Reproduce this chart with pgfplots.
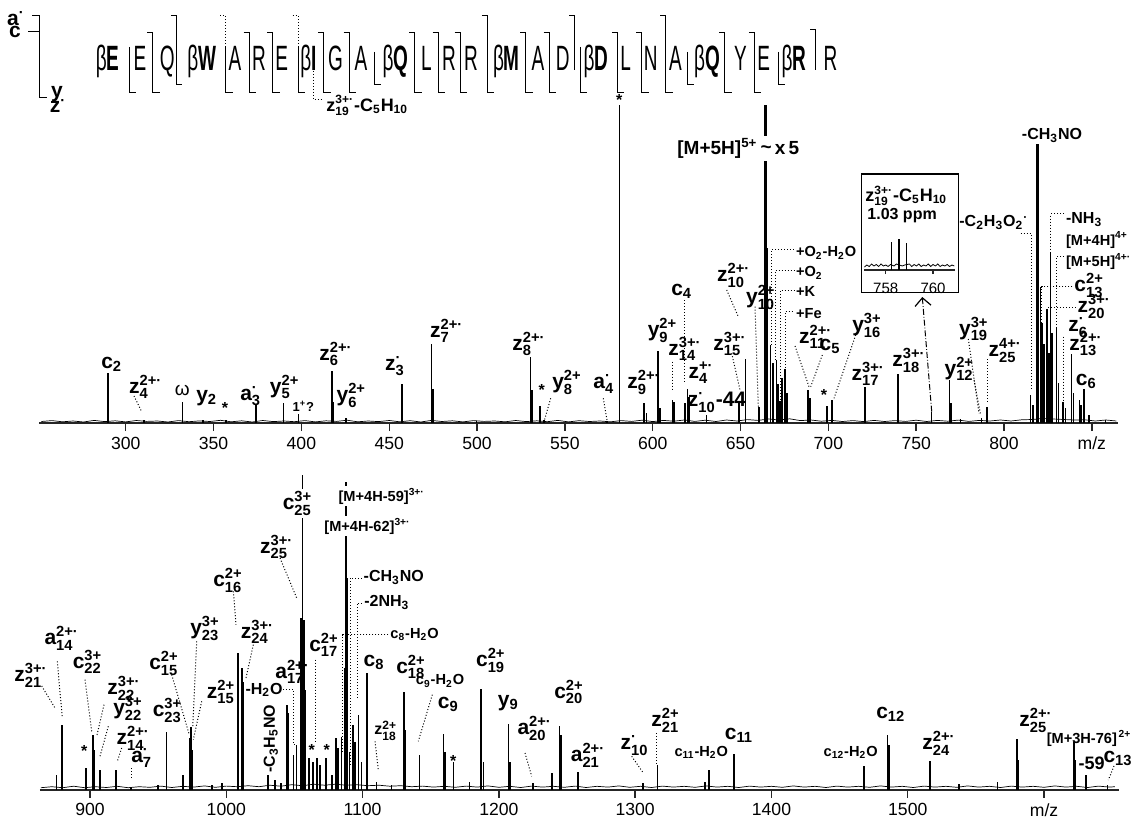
\documentclass[border=0pt]{standalone}
\usepackage{pgfplots}
\pgfplotsset{compat=1.18}
\usepackage{amsmath}
\usepackage{graphicx}
\usepackage{fontspec}
\setmainfont{Liberation Sans}
\usetikzlibrary{arrows.meta}

\newcommand{\I}[3]{#1${}^{\text{#3}}_{\text{#2}}$}
\newcommand{\Is}[2]{#1${}_{\text{#2}}$}
\newcommand{\Iu}[2]{#1${}^{\text{#2}}$}
\newcommand{\sub}[1]{${}_{\text{#1}}$}
\newcommand{\sq}[1]{\scalebox{1}[1.85]{#1}}

\tikzset{
  L/.style={font=\fontsize{10.5}{12}\selectfont\bfseries, anchor=base, inner sep=0pt},
  L9/.style={font=\fontsize{9}{11}\selectfont\bfseries, anchor=base, inner sep=0pt},
  S8/.style={font=\fontsize{8}{9.5}\selectfont\bfseries, anchor=base, inner sep=0pt},
  S75/.style={font=\fontsize{7.3}{9}\selectfont\bfseries, anchor=base, inner sep=0pt},
  ST/.style={font=\fontsize{8}{9}\selectfont\bfseries, anchor=center, inner sep=0pt},
  SEQ/.style={font=\fontsize{9.5}{11}\selectfont, anchor=base, inner sep=0pt},
  ld/.style={densely dotted, line width=0.5pt},
  br/.style={line width=0.5pt},
}

\pgfplotsset{
  spec/.style={
    scale only axis, anchor=south west, clip=false,
    axis x line*=bottom, axis y line=none,
    x axis line style={-, line width=0.9pt, black!85},
    tick align=outside, xtick pos=left, major tick length=4pt,
    xtick style={line width=0.7pt, black!85},
    xticklabel style={font=\fontsize{8.8}{10}\selectfont, anchor=north, inner sep=0pt, yshift=-2.8pt},
    ytick=\empty,
  },
}

\begin{document}
\begin{tikzpicture}
\path[use as bounding box] (0,0) rectangle (569.5pt,-409pt);

% ---------------- top spectrum ----------------
\begin{axis}[spec, at={(19.65pt,-211.5pt)}, width=539.35pt, height=211.5pt,
  xmin=250.8, xmax=864.9, ymin=0, ymax=423,
  xtick={300,350,400,450,500,550,600,650,700,750,800,850},
  xticklabels={300,350,400,450,500,550,600,650,700,750,800,m/z}]
\addplot[black, line width=0.35pt] coordinates {
(252,1.5)(258,2.4)(264,1.2)(270,2.0)(276,1.0)(282,2.6)(288,1.4)(294,2.2)(300,1.1)(306,2.5)
(312,1.6)(318,2.0)(324,1.0)(330,2.4)(336,1.3)(342,2.1)(348,1.5)(354,2.7)(360,1.2)(366,2.2)
(372,1.0)(378,2.5)(384,1.4)(390,2.0)(396,1.3)(402,2.4)(408,1.1)(414,2.2)(420,1.6)(426,2.8)
(432,1.2)(438,2.0)(444,1.4)(450,2.5)(456,1.2)(462,2.3)(468,1.0)(474,2.6)(480,1.5)(486,2.2)
(492,1.1)(498,2.4)(504,1.6)(510,2.0)(516,1.2)(522,2.5)(528,1.4)(534,2.2)(540,1.3)(546,2.6)
(552,1.1)(558,2.3)(564,1.5)(570,2.0)(576,1.2)(582,2.4)(588,1.6)(594,2.8)(600,1.4)(606,2.6)
(612,1.8)(618,3.0)(624,1.6)(630,2.8)(636,1.5)(642,3.0)(648,2.0)(654,3.4)(660,2.6)(666,4.0)
(672,3.0)(678,4.2)(684,2.4)(690,3.0)(696,1.8)(702,2.6)(708,1.5)(714,2.4)(720,1.4)(726,2.6)
(732,1.5)(738,2.4)(744,1.6)(750,2.8)(756,1.5)(762,2.6)(768,1.8)(774,2.9)(780,1.6)(786,2.6)
(792,2.0)(798,3.0)(804,2.0)(810,3.2)(816,3.5)(822,4.5)(828,4.0)(834,3.5)(840,3.0)(846,3.2)
(852,2.0)(858,3.0)(864,2.0)};
\addplot[ycomb, black, line width=0.85pt] coordinates {
(290.1,50)(310.6,3)(332.3,21)(344,3)(357,3)(374.2,18)(389.8,20)(398.3,9)(417.5,52)(418.2,21)
(425.2,5)(457.2,39)(474.1,79)(474.8,34)(499.7,2)(530.5,66)(531.2,33)(535.8,17)(538,3)(574,2)
(595.2,20)(596.5,10)(603.0,72)(604.2,15)(611.3,23)(612.3,21)(618.3,20)(619.8,34)(620.8,26)
(630.6,8)(649.2,20)(652.8,64)(660.4,16)(665.3,175)(667.1,78)(668.5,60)(670.5,63)(671.4,39)
(672.4,22)(673.5,45)(675.2,54)(676.5,30)(688.5,33)(689.5,25)(699.3,17)(702.1,23)(720.7,36)
(739.7,49)(758.7,11)(768.9,43)(769.8,20)(775.2,4)(787.1,5)(790.4,16)
(815.0,28)(816.5,18)(819.5,150)(820.7,136)(821.7,100)(822.6,79)(824.5,114)(825.5,70)
(826.4,171)(827.5,90)(829.8,96)(831,40)(833.6,21)(835,15)(838.4,69)(839.5,30)(842.9,23)
(844,18)(845.4,34)(848.2,8)(857.7,3)};
\addplot[ycomb, black, line width=0.6pt] coordinates {(580.9,318)};
\addplot[ycomb, black, line width=1.5pt] coordinates {(664.3,318)(818.8,279)};
\end{axis}

% ---------------- inset ----------------
\begin{axis}[spec, at={(432pt,-135pt)}, width=45.5pt, height=20pt,
  xmin=757.08, xmax=760.93, ymin=0, ymax=40,
  x axis line style={-, line width=0.6pt},
  major tick length=2pt,
  xtick={758,760}, xticklabels={758,760},
  xticklabel style={font=\fontsize{7.5}{9}\selectfont, yshift=-1.5pt}]
\addplot[black, line width=0.4pt] coordinates {
(757.1,3)(757.2,5)(757.3,3.5)(757.4,6)(757.5,4)(757.6,5.5)(757.7,3.5)(757.8,6)(757.9,4)(758.0,5)
(758.1,3.5)(758.2,5.5)(758.35,4)(758.45,6)(758.7,4)(758.8,5)(759.0,6)(759.1,3.5)(759.2,5.5)
(759.3,4)(759.4,6)(759.5,3.5)(759.6,5)(759.7,4)(759.8,6)(759.9,3.5)(760.0,5.5)(760.1,4)
(760.2,6)(760.3,3.5)(760.4,5)(760.5,4)(760.6,5.5)(760.7,3.5)(760.8,5)(760.9,4)};
\addplot[ycomb, black, line width=0.6pt] coordinates {(758.25,28)(758.56,31)(758.87,27)};
\end{axis}

% ---------------- bottom spectrum ----------------
\begin{axis}[spec, at={(20pt,-394.85pt)}, width=539.5pt, height=175pt,
  xmin=863.3, xmax=1655, ymin=0, ymax=350,
  xtick={900,1000,1100,1200,1300,1400,1500,1600},
  xticklabels={900,1000,1100,1200,1300,1400,1500,m/z}]
\addplot[black, line width=0.35pt] coordinates {
(864,2)(872,3)(880,2)(888,3.5)(896,2)(904,3)(912,2.2)(920,3.4)(928,2)(936,3)(944,2.4)(952,3.6)
(960,2.2)(968,3.4)(976,2.6)(984,3.8)(992,2.4)(1000,3.6)(1008,3)(1016,4)(1024,3)(1032,4.5)
(1040,3.5)(1048,5)(1056,4)(1064,5.5)(1072,4.5)(1080,5.5)(1088,4.5)(1096,5)(1104,4)(1112,4.5)
(1120,3.5)(1128,4)(1136,3)(1144,3.6)(1152,2.6)(1160,3.4)(1168,2.4)(1176,3.6)(1184,2.6)(1192,3.8)
(1200,2.4)(1208,3.4)(1216,2.2)(1224,3.6)(1232,2.6)(1240,3.4)(1248,2.4)(1256,3.6)(1264,2.2)
(1272,3.4)(1280,2.6)(1288,3.8)(1296,2.4)(1304,3.4)(1312,2.2)(1320,3.6)(1328,2.6)(1336,3.4)
(1344,2.4)(1352,3.8)(1360,2.6)(1368,3.4)(1376,2.2)(1384,3.6)(1392,2.6)(1400,3.4)(1408,2.4)
(1416,3.8)(1424,2.6)(1432,3.4)(1440,2.2)(1448,3.6)(1456,2.6)(1464,3.4)(1472,2.4)(1480,3.8)
(1488,2.6)(1496,3.4)(1504,2.2)(1512,3.6)(1520,2.6)(1528,3.4)(1536,2.4)(1544,3.8)(1552,2.6)
(1560,3.4)(1568,2.2)(1576,3.6)(1584,2.6)(1592,3.4)(1600,2.4)(1608,3.8)(1616,2.6)(1624,3.4)
(1632,2.2)(1640,3.6)(1648,2.6)(1652,3)};
\addplot[ycomb, black, line width=0.85pt] coordinates {
(875.5,15)(879.2,65)(879.9,60)(897.1,22)(902.0,55)(902.7,40)(907.3,20)(919.1,20)(930.1,3)
(950.1,5)(956.2,58)(968.0,15)(972.9,52)(974.3,63)(975.2,40)(989.3,5)(996.6,7)(1008.8,137)
(1011.3,122)(1012.5,108)(1030.8,15)(1035.7,10)(1039.9,7)(1044.3,85)(1045.5,77)(1049.2,35)
(1051.6,45)(1054.6,172)(1057.0,170)(1058.2,100)(1060.9,32)(1063.4,28)(1066.3,32)(1068.7,25)
(1073.1,32)(1077.3,15)(1080.5,52)(1082.2,42)(1084.6,53)(1087.1,122)(1088.3,212)(1090.3,38)
(1092.7,65)(1094.4,48)(1096.9,75)(1099.3,28)(1103.0,117)(1110.3,8)(1121.3,5)(1130.4,98)
(1131.2,60)(1141.7,35)(1159.3,56)(1160.5,38)(1166.6,28)(1178.4,8)(1186.9,101)(1188.6,28)
(1207.0,66)(1208.2,28)(1224.8,7)(1238.8,17)(1244.4,64)(1245.4,55)(1257.8,18)(1305.5,7)
(1316.3,25)(1351.3,8)(1354.4,20)(1372.5,36)(1467.9,24)(1485.1,55)(1486.3,45)(1516.1,29)
(1537.6,6)(1565.8,8)(1580.4,51)(1581.2,30)(1622.0,48)(1622.8,30)(1630.6,15)(1646.5,5)};
\addplot[ycomb, black, line width=0.6pt] coordinates {(1056.0,315)(1087.8,308)};
\end{axis}

% ---------------- annotations (1 unit = 1 px of the 1139x818 frame) ----------------
\begin{scope}[x=0.5pt, y=-0.5pt]
% header legend
\node[L] at (16,25.5) {\Iu{a}{·}};
\node[L] at (15,38) {c};
\node[L] at (57,97.5) {y};
\node[L] at (58,113) {\Iu{z}{·}};
\draw[br] (32,16) -- (39,16) -- (39,97.5) -- (47,97.5);
\draw[br] (28,32) -- (39,32);
% sequence
\foreach \x/\t in {107.6/β\textbf{E}, 140/E, 167.3/Q, 201.8/β\textbf{W}, 235/A, 259/R, 281.8/E,
  308.5/β\textbf{I}, 335.5/G, 361/A, 395.5/β\textbf{Q}, 426.4/L, 449/R, 471/R, 506.4/β\textbf{M},
  538/A, 562.8/D, 596/β\textbf{D}, 625.7/L, 650.7/N, 675.5/A, 707/β\textbf{Q}, 740.5/Y, 763.7/E,
  794/β\textbf{R}, 830.4/R}
  \node[SEQ] at (\x,71) {\sq{\t}};
\foreach \x in {152.7,249,272.7,323.6,349,414.5,438,460,525.5,549,617.4,641.5,724.8,754.4}
  \draw[br] (\x-5.5,33) -- (\x,33) -- (\x,70);
\draw[br] (810.1,30) -- (815.6,30) -- (815.6,70);
\foreach \x in {176.4,487.3,574.8,665.5}
  \draw[br] (\x-5.5,16) -- (\x,16) -- (\x,70);
\foreach \x in {225.5,298.2}
  \draw[ld] (\x-5.5,16) -- (\x,16) -- (\x,62);
\foreach \x in {129,152.7,225.5,249,272.7,298.2,323.6,349,414.5,438,460,487.3,525.5,549,580.4,617.4,641.5,665.5,724.8,754.4}
  \draw[br] (\x,47) -- (\x,93) -- (\x+7,93);
\foreach \x in {176.4,374.5,687.8,778.5}
  \draw[br] (\x,52) -- (\x,85) -- (\x+6,85);
\draw[ld] (313.5,47) -- (313.5,100) -- (322,100);
\node[L9, anchor=base west] at (326,111.5) {\I{z}{19}{3+·}-C\sub{5}H\sub{10}};

% top panel labels
\node[L] at (111.7,368.3) {\Is{c}{2}};
\node[L] at (145.7,393.3) {\I{z}{4}{2+·}};
\draw[ld] (134,396) -- (141.7,411.7);
\node[font=\fontsize{9.5}{11}\selectfont, anchor=base, inner sep=0pt] at (182.3,395) {ω};
\node[L] at (206.7,401.7) {\Is{y}{2}};
\node[ST] at (225,408) {*};
\node[L] at (250.7,400) {\I{a}{3}{·}};
\node[L] at (284.7,393.3) {\I{y}{5}{2+}};
\node[font=\fontsize{6.5}{8}\selectfont\bfseries, anchor=base, inner sep=0pt] at (303.3,411.7) {1\Iu{}{+}?};
\node[L] at (336,360) {\I{z}{6}{2+·}};
\node[L] at (351.3,401.7) {\I{y}{6}{2+}};
\node[L] at (395,370) {\I{z}{3}{·}};
\node[L] at (446.7,337.3) {\I{z}{7}{2+·}};
\node[L] at (529,350) {\I{z}{8}{2+·}};
\node[ST] at (541.7,390) {*};
\node[L] at (567,388.3) {\I{y}{8}{2+}};
\draw[ld] (550.7,398.3) -- (544,421.7);
\node[L] at (603.8,388.3) {\I{a}{4}{·}};
\draw[ld] (603.3,398.3) -- (607.3,421.7);
\node[L] at (644,388.3) {\I{z}{9}{2+·}};
\node[L] at (662.5,336.7) {\I{y}{9}{2+}};
\node[L] at (681.7,295) {\Is{c}{4}};
\draw[ld] (684,300) -- (684,384);
\node[L] at (685,355) {\I{z}{14}{3+·}};
\draw[ld] (672.7,361.7) -- (672.7,390);
\node[L] at (730,350) {\I{z}{15}{3+·}};
\draw[ld] (731.7,353.3) -- (740,390);
\node[L] at (701,378.3) {\I{z}{4}{+·}};
\node[L] at (733.8,281.7) {\I{z}{10}{2+·}};
\draw[ld] (726.7,290) -- (738.3,316.7);
\node[L] at (760.8,303.3) {\I{y}{10}{2+}};
\draw[ld] (755,306.7) -- (758.3,406.7);
\node[L] at (717,406.7) {\I{z}{10}{·}-44};
\node[ST] at (619.3,100) {*};
\node[font=\fontsize{9.5}{11}\selectfont\bfseries, anchor=base west, inner sep=1pt, fill=white] at (675,155)
  {[M+5H]\Iu{}{5+}\,\raisebox{0.15ex}{\textasciitilde}\,x\,5};

\node[S75, anchor=base west] at (795.7,256.7) {+O\sub{2}-H\sub{2}O};
\draw[ld] (771.7,345) -- (771.7,249.3) -- (794,249.3);
\node[S75, anchor=base west] at (795.7,276.7) {+O\sub{2}};
\draw[ld] (775.7,360) -- (775.7,270) -- (794,270);
\node[S75, anchor=base west] at (795.7,296.7) {+K};
\draw[ld] (780,400) -- (780,290.7) -- (794,290.7);
\node[S75, anchor=base west] at (795.7,318.3) {+Fe};
\draw[ld] (785,368) -- (785,311.7) -- (794,311.7);
\node[L] at (815.7,343.3) {\I{z}{11}{2+·}};
\draw[ld] (795,346) -- (809,386.7);
\node[L] at (830,350) {\Is{c}{5}};
\draw[ld] (822.3,355) -- (810.7,386.7);
\node[L] at (867,331.7) {\I{y}{16}{3+}};
\draw[ld] (855.7,335) -- (834,398.3);
\node[ST] at (824,395) {*};
\node[L] at (868.2,380) {\I{z}{17}{3+·}};
\node[L] at (909,366.7) {\I{z}{18}{3+·}};
\node[L] at (959.3,375) {\I{y}{12}{2+}};
\draw[ld] (974,380) -- (980.7,415);
\node[L] at (973.8,335) {\I{y}{19}{3+}};
\draw[ld] (968.3,339) -- (979,413.3);
\node[L] at (1005.3,356.7) {\I{z}{25}{4+·}};
\draw[ld] (987.3,359) -- (987.3,401.7);
\node[S8] at (1052,140) {-CH\sub{3}NO};
\node[S8, anchor=base west] at (959,226.7) {-C\sub{2}H\sub{3}O\sub{2}\Iu{}{·}};
\draw[ld] (1020.7,233.3) -- (1031,233.3) -- (1031,390);
\node[S8, anchor=base west] at (1065.7,223.3) {-NH\sub{3}};
\draw[ld] (1064,214) -- (1050.7,214) -- (1050.7,250);
\node[S75, anchor=base west] at (1065.7,245) {[M+4H]\Iu{}{4+}};
\node[S75, anchor=base west] at (1065.7,266.7) {[M+5H]\Iu{}{4+·}};
\draw[ld] (1064,256.7) -- (1056.7,256.7) -- (1056.7,326.7);
\node[L, anchor=base west] at (1074,291.7) {\I{c}{13}{2+}};
\draw[ld] (1072.3,286.7) -- (1041.7,286.7) -- (1041.7,356.7);
\node[L, anchor=base west] at (1077.3,312.5) {\I{z}{20}{3+·}};
\draw[ld] (1075.7,307.3) -- (1047.3,307.3) -- (1047.3,350);
\node[L] at (1078.3,331.7) {\I{z}{6}{·}};
\draw[ld] (1063.3,336.7) -- (1063.3,401.7);
\node[L, anchor=base west] at (1069,350) {\I{z}{13}{2+·}};
\node[L] at (1086.3,385) {\Is{c}{6}};

% inset
\draw[line width=0.7pt] (861.7,174) rectangle (958.3,292.7);
\node[L9, anchor=base west] at (865,201.7) {\I{z}{19}{3+·}-C\sub{5}H\sub{10}};
\node[S8, anchor=base west] at (867,219.5) {1.03 ppm};
\draw[densely dash dot, line width=0.5pt, -{Straight Barb[length=4pt,width=8pt,line width=0.6pt]}] (931.7,411.7) -- (922.3,297);

% bottom panel labels
\node[L] at (31,681.3) {\I{z}{21}{3+·}};
\draw[ld] (41.7,686) -- (55,708);
\node[L] at (61.7,644.7) {\I{a}{14}{2+·}};
\draw[ld] (57.3,661.3) -- (62.3,718);
\node[L] at (87.5,668) {\I{c}{22}{3+}};
\draw[ld] (85,679.7) -- (91.7,731.3);
\node[L] at (124,694.7) {\I{z}{22}{3+·}};
\draw[ld] (104,704.7) -- (96.7,736.3);
\node[L] at (128,714.7) {\I{y}{22}{3+}};
\draw[ld] (108.3,726.3) -- (100,756.3);
\node[L] at (167.5,716.3) {\I{c}{23}{3+}};
\node[L] at (133.3,744.7) {\I{z}{14}{2+·}};
\draw[ld] (121.7,748) -- (117.3,761.3);
\node[ST] at (84.3,751.3) {*};
\node[L] at (141.7,762) {\I{a}{7}{·}};
\draw[ld] (131,768) -- (131,779.7);
\node[L] at (164,669.7) {\I{c}{15}{2+}};
\draw[ld] (171.7,674.7) -- (189.3,734.7);
\node[L] at (205,634.7) {\I{y}{23}{3+}};
\draw[ld] (196.7,641.3) -- (192.7,728);
\node[L] at (221,698) {\I{z}{15}{2+}};
\draw[ld] (201.7,701.3) -- (193.3,739.7);
\node[L] at (228,586.3) {\I{c}{16}{2+}};
\draw[ld] (233.3,591.3) -- (236,624.7);
\node[L] at (257.5,638) {\I{z}{24}{3+·}};
\draw[ld] (253.3,644.7) -- (246,678);
\node[S8, rotate=90, anchor=center] at (270.8,738.7) {-C\sub{3}H\sub{5}NO};
\node[S8] at (264,694) {-H\sub{2}O};
\draw[ld] (280,689.7) -- (293.3,689.7) -- (293.3,744.7) -- (297,744.7);
\node[L] at (292.5,678) {\I{a}{17}{2+·}};
\node[L] at (324,651.3) {\I{c}{17}{2+}};
\draw[ld] (315,659.7) -- (315,741.3);
\node[L, fill=white, inner sep=1pt] at (297.5,509.7) {\I{c}{25}{3+}};
\node[L] at (276.7,553) {\I{z}{25}{3+·}};
\draw[ld] (280,558) -- (296.7,598);
\node[ST] at (311.7,749.7) {*};
\node[ST] at (326.7,749.7) {*};
\node[S75, fill=white, inner sep=1pt] at (381.7,501.3) {[M+4H-59]\Iu{}{3+·}};
\node[S75, fill=white, inner sep=1pt] at (367.5,531.3) {[M+4H-62]\Iu{}{3+·}};
\node[S8, anchor=base west] at (363.3,581.3) {-CH\sub{3}NO};
\draw[ld] (361.7,578) -- (350,578) -- (350,764.7);
\node[S8, anchor=base west] at (364,606.3) {-2NH\sub{3}};
\draw[ld] (362,603) -- (357,603) -- (357,698);
\node[S75, anchor=base west] at (390,638) {\Is{c}{8}-H\sub{2}O};
\draw[ld] (388.3,634.7) -- (342.7,634.7) -- (342.7,751.3);
\node[L] at (374,666.3) {\Is{c}{8}};
\node[L] at (411,673) {\I{c}{18}{2+}};
\node[S8] at (385.8,734.7) {\I{z}{18}{2+}};
\draw[ld] (375,741.3) -- (378.3,769.7);
\node[S75] at (440,684.7) {\Is{c}{9}-H\sub{2}O};
\draw[ld] (432.3,694.7) -- (418.3,741.3);
\node[L] at (448.3,708) {\Is{c}{9}};
\node[ST] at (453.3,761.3) {*};
\node[L] at (490.8,666.3) {\I{c}{19}{2+}};
\node[L] at (508.3,706.3) {\Is{y}{9}};
\node[L] at (534.7,734.7) {\I{a}{20}{2+·}};
\draw[ld] (525,753) -- (531.7,776.3);
\node[L] at (569,698) {\I{c}{20}{2+}};
\node[L] at (588,761.3) {\I{a}{21}{2+·}};
\node[L] at (634.5,749.7) {\I{z}{10}{·}};
\draw[ld] (631.7,756.3) -- (643.3,773);
\node[L] at (665.5,726.3) {\I{z}{21}{2+}};
\draw[ld] (656.7,733) -- (656.7,764.7);
\node[S75] at (701.3,756.3) {\Is{c}{11}-H\sub{2}O};
\node[L] at (739,739.7) {\Is{c}{11}};
\node[S75] at (850.7,756.3) {\Is{c}{12}-H\sub{2}O};
\node[L] at (890.8,718) {\Is{c}{12}};
\node[L] at (939,749.7) {\I{z}{24}{2+·}};
\node[L] at (1036,726.3) {\I{z}{25}{2+·}};
\node[S75] at (1089,743.5) {[M+3H-76]\Iu{}{\,2+}};
\node[L9] at (1091.5,769.7) {-59};
\node[L] at (1118,762) {\Is{c}{13}};
\draw[ld] (1114,766) -- (1108.3,780);
\end{scope}
\end{tikzpicture}
\end{document}
